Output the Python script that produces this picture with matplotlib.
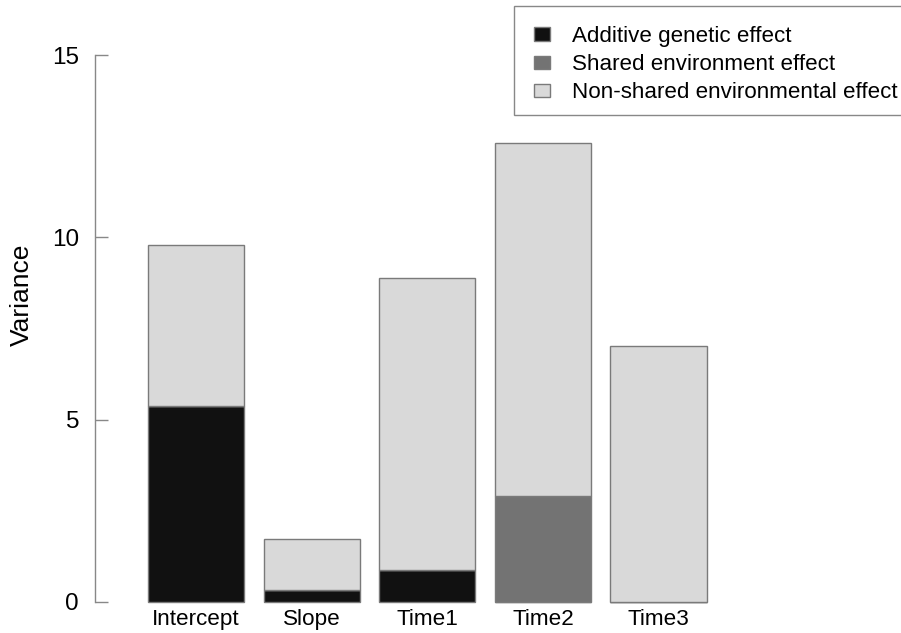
import matplotlib
matplotlib.use("Agg")
import matplotlib.pyplot as plt
from matplotlib.patches import Patch, Rectangle
import numpy as np

plt.rcParams['font.family'] = ['Liberation Sans', 'DejaVu Sans']

categories = ["Intercept", "Slope", "Time1", "Time2", "Time3"]
additive = [5.37, 0.33, 0.88, 0.0, 0.0]
shared = [0.0, 0.0, 0.0, 2.91, 0.0]
nonshared = [4.42, 1.40, 8.00, 9.68, 7.02]
series_labels = ["Additive genetic effect", "Shared environment effect",
                 "Non-shared environmental effect"]
yticks = [0, 5, 10, 15]

colors = ["#111111", "#737373", "#d9d9d9"]
edge = "#7a7a7a"

W, H = 901, 633
fig = plt.figure(figsize=(W / 100, H / 100), dpi=100)
ax = fig.add_axes([95 / W, (H - 602) / H, (729 - 95) / W, (602 - 55) / H])

x = 0.7 + 1.2 * np.arange(len(categories))
bottom = np.zeros(len(categories))
for vals, col in zip([additive, shared, nonshared], colors):
    vals = np.array(vals)
    ax.bar(x, vals, width=1.0, bottom=bottom, color=col, edgecolor=edge,
           linewidth=1.0, clip_on=False)
    bottom += vals

ax.set_xlim(-0.35, 6.232)
ax.set_ylim(0, 15)
for s in ["top", "right", "bottom"]:
    ax.spines[s].set_visible(False)
ax.spines["left"].set_color("#888888")
ax.spines["left"].set_linewidth(1.0)
ax.spines["left"].set_bounds(0, 15)

ax.set_yticks(yticks)
ax.set_yticklabels([str(v) for v in yticks])
ax.tick_params(axis="y", direction="in", length=9.5, width=1.0, color="#888888",
               pad=11.5, labelsize=17.5)
ax.set_xticks(x)
ax.set_xticklabels(categories)
ax.tick_params(axis="x", length=0, pad=5, labelsize=16.2)

fig.text(22 / W, 1 - 295 / H, "Variance", rotation=90, ha="center", va="center",
         fontsize=19)

# legend box (extends past the right edge as in the reference)
fig.patches.append(Rectangle((514 / W, 1 - 115 / H), 400 / W, 109 / H,
                             transform=fig.transFigure, facecolor="white",
                             edgecolor="#888888", linewidth=1.0, zorder=1))
handles = [Patch(facecolor=c, edgecolor=edge, linewidth=1.0) for c in colors]
leg = fig.legend(handles, series_labels, loc="upper left",
                 bbox_to_anchor=(514 / W, 1 - 6 / H), fontsize=16.1,
                 frameon=False, handlelength=0.7, handleheight=0.55,
                 handletextpad=1.0, labelspacing=0.32, borderpad=0.9,
                 borderaxespad=0)
leg.set_zorder(3)

fig.savefig("out.png", dpi=100)
